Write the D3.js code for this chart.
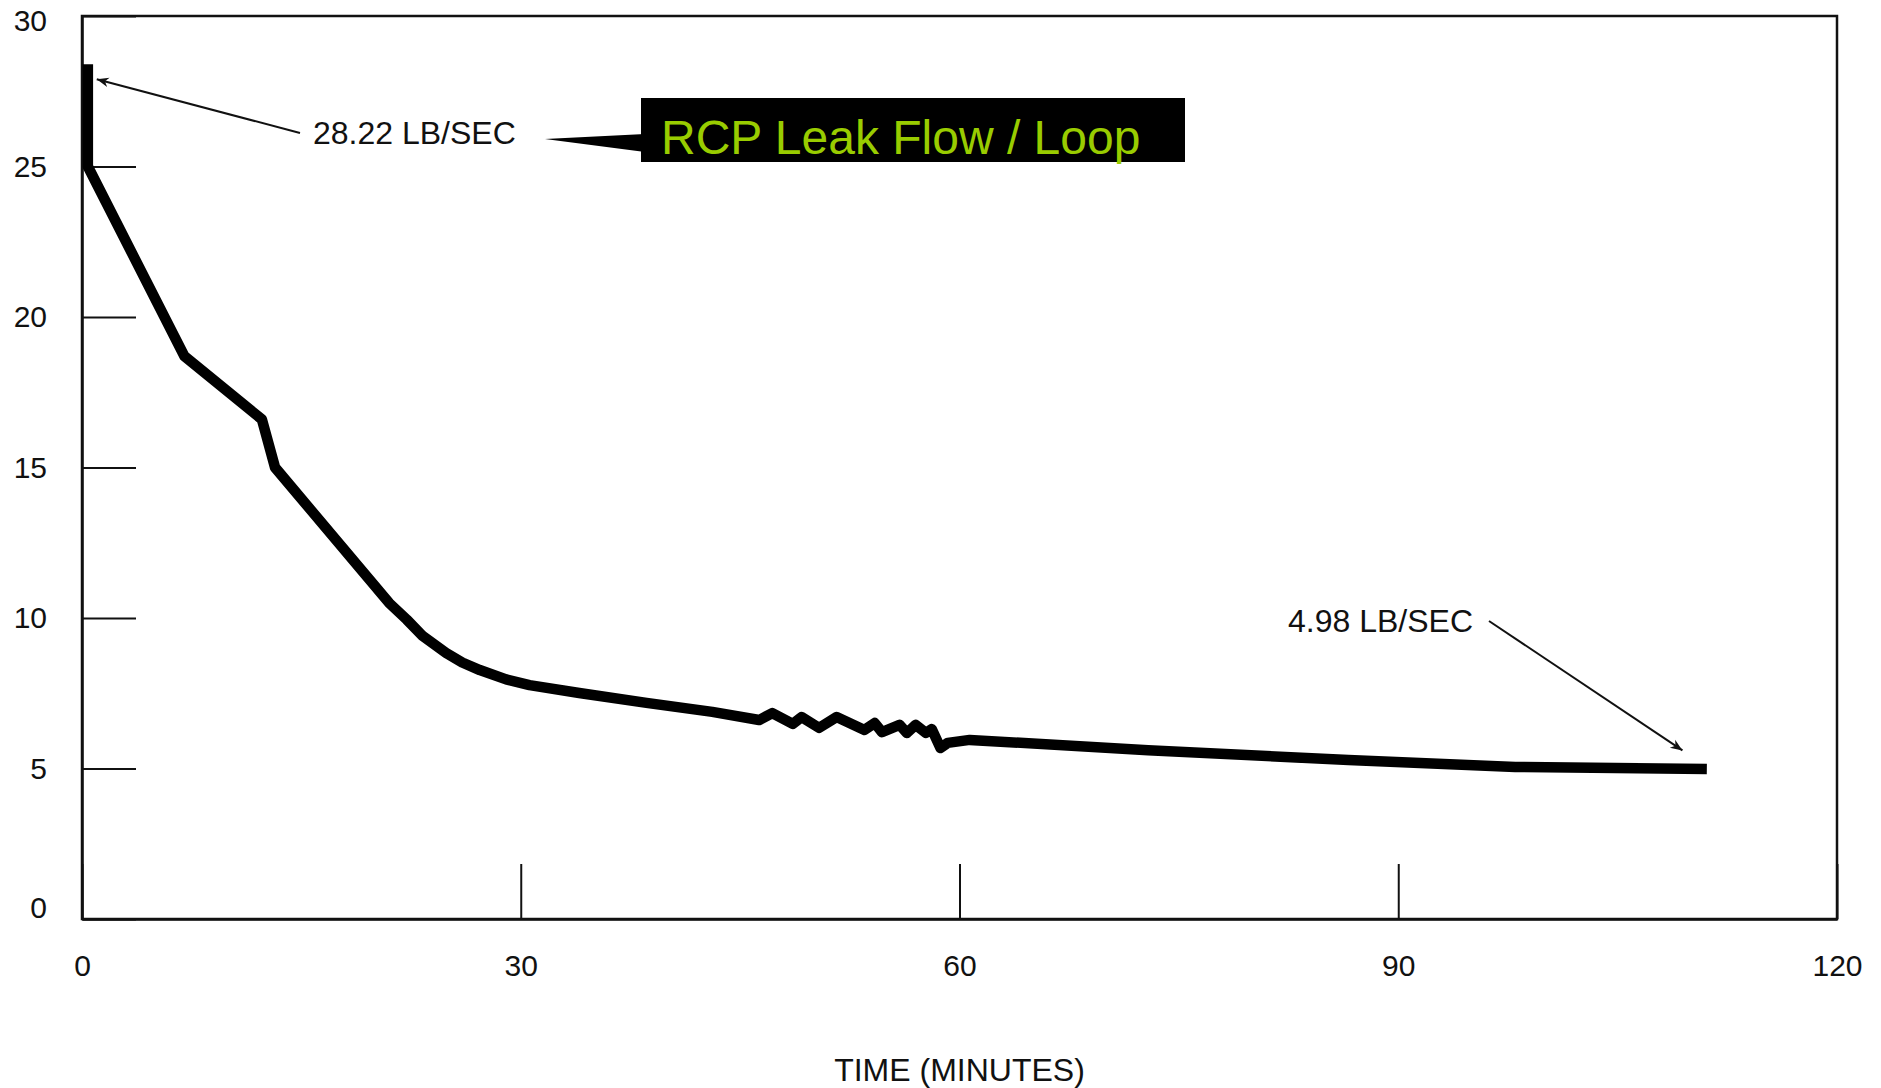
<!DOCTYPE html>
<html>
<head>
<meta charset="utf-8">
<script src="https://cdn.jsdelivr.net/npm/d3@7"></script>
<style>
  body { margin: 0; background: #fff; }
  text { font-family: "Liberation Sans", Arial, sans-serif; fill: #111; }
</style>
</head>
<body>
<svg></svg>
<script>
var svg_width = 1881;
var svg_height = 1088;

// DATA
var timeMinutes = [0.4, 0.4, 7.0, 12.3, 13.2, 21.0, 22.2, 23.3, 24.9, 26.0, 27.2, 29.0, 30.6,
                   34.0, 38.6, 43.1, 46.3, 47.2, 48.6, 49.2, 50.4, 51.6, 53.5, 54.2, 54.7,
                   55.9, 56.4, 57.0, 57.7, 58.1, 58.7, 59.2, 60.7, 72.9, 86.6, 98.0, 111.1];
var leakFlow = [28.4, 25.0, 18.7, 16.6, 15.0, 10.5, 9.95, 9.4, 8.84, 8.52, 8.27, 7.96, 7.77,
                7.51, 7.18, 6.88, 6.61, 6.84, 6.48, 6.71, 6.35, 6.71, 6.28, 6.51, 6.21,
                6.45, 6.18, 6.45, 6.18, 6.31, 5.68, 5.85, 5.95, 5.61, 5.28, 5.05, 4.98];
var xTicks = [0, 30, 60, 90, 120];
var yTicks = [0, 5, 10, 15, 20, 25, 30];
var peakNote = { t: 0.6, v: 27.9, label: "28.22 LB/SEC" };
var endNote = { t: 110.8, v: 5.6, label: "4.98 LB/SEC" };
var titleText = "RCP Leak Flow / Loop";

var points = timeMinutes.map(function(t, i) {
  return { t: t, v: leakFlow[i] };
});

// SCALES
var xScale = d3.scaleLinear()
               .domain([0, 120])
               .range([82, 1837]);

var yScale = d3.scaleLinear()
               .domain([0, 30])
               .range([919, 16]);

var svg = d3.select("svg")
    .attr("width", svg_width)
    .attr("height", svg_height);

// arrowhead
svg.append("defs")
  .append("marker")
    .attr("id", "head")
    .attr("viewBox", "0 0 10 10")
    .attr("refX", 10)
    .attr("refY", 5)
    .attr("markerWidth", 12)
    .attr("markerHeight", 12)
    .attr("orient", "auto")
    .attr("markerUnits", "userSpaceOnUse")
  .append("path")
    .attr("d", "M0,1 L10,5 L0,9 L3,5 Z")
    .attr("fill", "#111");

// FRAME (top and right edges)
svg.append("rect")
    .attr("x", xScale(0))
    .attr("y", yScale(30))
    .attr("width", xScale(120) - xScale(0))
    .attr("height", yScale(0) - yScale(30))
    .attr("fill", "none")
    .attr("stroke", "#111")
    .attr("stroke-width", 2.5);

// AXES - ticks point inward
var xAxis = d3.axisBottom(xScale)
              .tickValues(xTicks)
              .tickSize(-55)
              .tickSizeOuter(0)
              .tickPadding(36);
var yAxis = d3.axisLeft(yScale)
              .tickValues(yTicks)
              .tickSize(-54)
              .tickSizeOuter(0)
              .tickPadding(35);

var gx = svg.append("g")
    .attr("transform", "translate(0, " + yScale(0) + ")")
    .call(xAxis);
var gy = svg.append("g")
    .attr("transform", "translate(" + xScale(0) + ", 0)")
    .call(yAxis);

[gx, gy].forEach(function(g) {
  g.select(".domain").attr("stroke", "#111").attr("stroke-width", 2.5);
  g.selectAll(".tick line").attr("stroke", "#111").attr("stroke-width", 2);
  g.selectAll(".tick text")
    .attr("font-family", "Liberation Sans, Arial, sans-serif")
    .attr("fill", "#111");
});
gx.selectAll(".tick text").attr("font-size", 30);
gy.selectAll(".tick text")
    .attr("font-size", 30)
    .attr("y", function(d) { return d === 0 ? -11 : (d === 30 ? 5 : 0); });

// CURVE
var line = d3.line()
    .x(function(d) { return xScale(d.t); })
    .y(function(d) { return yScale(d.v); });

svg.append("path")
    .datum(points)
    .attr("d", line)
    .attr("fill", "none")
    .attr("stroke", "#000")
    .attr("stroke-width", 10.5)
    .attr("stroke-linejoin", "round")
    .attr("stroke-linecap", "butt");

// ANNOTATIONS
svg.append("line")
    .attr("x1", 300).attr("y1", 133)
    .attr("x2", xScale(peakNote.t) + 6).attr("y2", yScale(peakNote.v))
    .attr("stroke", "#111")
    .attr("stroke-width", 2)
    .attr("marker-end", "url(#head)");
svg.append("text")
    .attr("x", 313)
    .attr("y", 133)
    .attr("dy", "0.35em")
    .attr("font-size", 32)
    .text(peakNote.label);

svg.append("line")
    .attr("x1", 1489).attr("y1", 621)
    .attr("x2", xScale(endNote.t) - 20).attr("y2", yScale(endNote.v))
    .attr("stroke", "#111")
    .attr("stroke-width", 2)
    .attr("marker-end", "url(#head)");
svg.append("text")
    .attr("x", 1288)
    .attr("y", 621)
    .attr("dy", "0.35em")
    .attr("font-size", 32)
    .text(endNote.label);

// AXIS TITLE
svg.append("text")
    .attr("x", xScale(60))
    .attr("y", 1070)
    .attr("dy", "0.35em")
    .attr("font-size", 32)
    .style("text-anchor", "middle")
    .text("TIME (MINUTES)");

// TITLE CALLOUT
svg.append("polygon")
    .attr("points", "545,139 645,134 645,152")
    .attr("fill", "#000");
svg.append("rect")
    .attr("x", 641)
    .attr("y", 98)
    .attr("width", 544)
    .attr("height", 64)
    .attr("fill", "#000");
svg.append("text")
    .attr("x", 661)
    .attr("y", 154)
    .attr("font-size", 48)
    .style("fill", "#99cc00")
    .text(titleText);
</script>
</body>
</html>
